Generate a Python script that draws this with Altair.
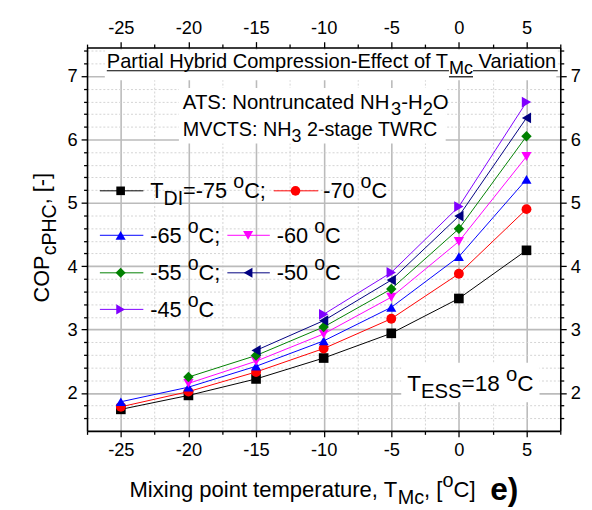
import altair as alt
import pandas as pd

# ---------------- data ----------------
x_vals = [-25, -20, -15, -10, -5, 0, 5]
series_names = ["-75", "-70", "-65", "-60", "-55", "-50", "-45"]
cop_m75 = [1.74, 1.96, 2.22, 2.55, 2.94, 3.49, 4.25]
cop_m70 = [1.78, 2.02, 2.33, 2.70, 3.17, 3.88, 4.90]
cop_m65 = [1.86, 2.09, 2.42, 2.82, 3.35, 4.15, 5.37]
cop_m60 = [None, 2.15, 2.50, 2.93, 3.51, 4.39, 5.73]
cop_m55 = [None, 2.25, 2.59, 3.04, 3.64, 4.59, 6.05]
cop_m50 = [None, None, 2.67, 3.14, 3.78, 4.79, 6.34]
cop_m45 = [None, None, None, 3.24, 3.90, 4.94, 6.59]
all_series = [cop_m75, cop_m70, cop_m65, cop_m60, cop_m55, cop_m50, cop_m45]

colors = ["#000000", "#FF0000", "#0000FF", "#FF00FF", "#008000", "#000080", "#8000FF"]
shapes = ["square", "circle", "triangle-up", "triangle-down", "diamond",
          "triangle-left", "triangle-right"]
sizes = [95, 120, 130, 130, 130, 130, 130]

x_ticks = [-27.5, -25, -22.5, -20, -17.5, -15, -12.5, -10, -7.5, -5, -2.5, 0, 2.5, 5, 7.5]
y_ticks = [1.6, 1.8, 2.0, 2.2, 2.4, 2.6, 2.8, 3.0, 3.2, 3.4, 3.6, 3.8, 4.0, 4.2, 4.4,
           4.6, 4.8, 5.0, 5.2, 5.4, 5.6, 5.8, 6.0, 6.2, 6.4, 6.6, 6.8, 7.0, 7.2, 7.4]

rows = []
for name, vals in zip(series_names, all_series):
    for xv, yv in zip(x_vals, vals):
        if yv is not None:
            rows.append({"T": xv, "COP": yv, "series": name})
df = pd.DataFrame(rows)

# ---------------- layout ----------------
FONT = "Liberation Sans"
W_PLOT, H_PLOT = 479, 388
OX, OY = 88, 45  # page position of plot origin

xscale = alt.Scale(domain=[-27.5, 7.5], nice=False, zero=False)
yscale = alt.Scale(domain=[1.4, 7.45], nice=False, zero=False)
cscale = alt.Scale(domain=series_names, range=colors)
sscale = alt.Scale(domain=series_names, range=shapes)
zscale = alt.Scale(domain=series_names, range=sizes)

x_major = "abs(datum.value % 5) < 0.001"
y_major = "abs(datum.value - round(datum.value)) < 0.001"


def axis(orient, values, major_test, grid):
    lab = "(%s) ? ((datum.value < 0 ? '-' : '') + abs(round(datum.value))) : ''" % major_test
    kw = dict(
        orient=orient, values=values, grid=grid,
        tickSize={"condition": {"test": major_test, "value": 6}, "value": 3.5},
        tickColor="#000000", tickWidth=1.3,
        domainColor="#000000", domainWidth=1.6,
        labelExpr=lab, labelFont=FONT, labelFontSize=18.5, labelColor="#000000",
        labelPadding=4, labelOverlap=False, labelFlush=False, title=None,
    )
    if grid:
        kw.update(
            gridColor={"condition": {"test": major_test, "value": "#BBBBBB"}, "value": "#D3D3D3"},
            gridWidth={"condition": {"test": major_test, "value": 1.6}, "value": 1},
            gridDash={"condition": {"test": major_test, "value": []}, "value": [2, 2]},
        )
    return alt.Axis(**kw)


lines = alt.Chart(df).mark_line(strokeWidth=1).encode(
    x=alt.X("T:Q", scale=xscale, axis=axis("bottom", x_ticks, x_major, True)),
    y=alt.Y("COP:Q", scale=yscale, axis=axis("left", y_ticks, y_major, True)),
    color=alt.Color("series:N", scale=cscale, legend=None),
)
points = alt.Chart(df).mark_point(filled=True, opacity=1).encode(
    x=alt.X("T:Q", scale=xscale, axis=axis("top", x_ticks, x_major, False)),
    y=alt.Y("COP:Q", scale=yscale, axis=axis("right", y_ticks, y_major, False)),
    color=alt.Color("series:N", scale=cscale, legend=None),
    shape=alt.Shape("series:N", scale=sscale, legend=None),
    size=alt.Size("series:N", scale=zscale, legend=None),
)

# ---------------- rich text helper ----------------
AW = {' ': 278, '!': 278, '(': 333, ')': 333, ',': 278, '-': 333, '.': 278, ':': 278,
      ';': 278, '=': 584, '[': 278, ']': 278, '0': 556, '1': 556, '2': 556, '3': 556,
      '4': 556, '5': 556, '6': 556, '7': 556, '8': 556, '9': 556,
      'A': 667, 'B': 667, 'C': 722, 'D': 722, 'E': 667, 'F': 611, 'G': 778, 'H': 722,
      'I': 278, 'J': 500, 'K': 667, 'L': 556, 'M': 833, 'N': 722, 'O': 778, 'P': 667,
      'Q': 778, 'R': 722, 'S': 667, 'T': 611, 'U': 722, 'V': 667, 'W': 944, 'X': 667,
      'Y': 667, 'Z': 611, 'a': 556, 'b': 556, 'c': 500, 'd': 556, 'e': 556, 'f': 278,
      'g': 556, 'h': 556, 'i': 222, 'j': 222, 'k': 500, 'l': 222, 'm': 833, 'n': 556,
      'o': 556, 'p': 556, 'q': 556, 'r': 333, 's': 500, 't': 278, 'u': 556, 'v': 500,
      'w': 722, 'x': 500, 'y': 500, 'z': 500}
SUBR = 0.9
one = pd.DataFrame({"a": [0]})


def tw(s, fs):
    return sum(AW.get(c, 556) for c in s) * fs / 1000.0


def rich(parts, x, y, size, angle=0, underline=False):
    """parts: list of (text, kind); x,y page coords of baseline start."""
    out = []
    cx = 0.0
    for txt, kind in parts:
        fs = size if kind == "n" else size * SUBR
        off = {"n": 0.0, "sub": size * 0.30, "sup": -size * 0.45}[kind]
        lead = len(txt) - len(txt.lstrip(" "))
        cx += tw(" " * lead, fs)
        body = txt.lstrip(" ")
        if angle == 0:
            px, py = x + cx, y + off
        else:
            px, py = x + off, y - cx
        t = alt.Chart(one).mark_text(
            text=body, align="left", baseline="alphabetic", font=FONT,
            fontSize=fs, color="#000000", angle=angle,
        ).encode(x=alt.value(px - OX), y=alt.value(py - OY))
        out.append(t)
        w = tw(body, fs)
        if underline:
            ux1 = px - tw(" " * lead, fs)
            u = alt.Chart(one).mark_rule(color="#000000", strokeWidth=1.2).encode(
                x=alt.value(ux1 - OX), x2=alt.value(px + w - OX), y=alt.value(py + 2.5 - OY))
            out.append(u)
        cx += w
    return out


def box(x1, y1, x2, y2):
    return alt.Chart(one).mark_rect(fill="#FFFFFF", stroke=None).encode(
        x=alt.value(x1 - OX), x2=alt.value(x2 - OX), y=alt.value(y1 - OY), y2=alt.value(y2 - OY))


ann = []
ann.append(box(106, 47, 563, 78))
ann += rich([("Partial Hybrid Compression-Effect of T", "n"), ("Mc", "sub"), (" Variation", "n")],
            108, 66, 20.3, underline=True)
ann.append(box(181, 86, 451, 142))
ann += rich([("ATS: Nontruncated NH", "n"), ("3", "sub"), ("-H", "n"), ("2", "sub"), ("O", "n")],
            185, 107, 20.6)
ann += rich([("MVCTS: NH", "n"), ("3", "sub"), (" 2-stage TWRC", "n")], 185, 135, 20.0)
ann.append(box(406, 364, 546, 404))
ann += rich([("T", "n"), ("ESS", "sub"), ("=18 ", "n"), ("o", "sup"), ("C", "n")], 412, 393, 22.8)

# legend
LFS = 22
leg_rows = [
    # (series index, line x1, line x2, marker x, y, text x, text parts)
    (0, 101, 145, 122, 190, 152, [("T", "n"), ("DI", "sub"), ("=-75 ", "n"), ("o", "sup"), ("C;", "n")]),
    (1, 277, 322, 299, 190, 327, [("-70 ", "n"), ("o", "sup"), ("C", "n")]),
    (2, 101, 145, 122, 235, 152, [("-65 ", "n"), ("o", "sup"), ("C;", "n")]),
    (3, 230, 273, 251, 235, 280, [("-60 ", "n"), ("o", "sup"), ("C", "n")]),
    (4, 101, 145, 122, 273, 152, [("-55 ", "n"), ("o", "sup"), ("C;", "n")]),
    (5, 230, 273, 251, 273, 280, [("-50 ", "n"), ("o", "sup"), ("C", "n")]),
    (6, 101, 145, 122, 310, 152, [("-45 ", "n"), ("o", "sup"), ("C", "n")]),
]
for i, lx1, lx2, mx, yy, tx, parts in leg_rows:
    ann.append(alt.Chart(one).mark_rule(color=colors[i], strokeWidth=1).encode(
        x=alt.value(lx1 - OX), x2=alt.value(lx2 - OX), y=alt.value(yy - OY)))
    ann.append(alt.Chart(one).mark_point(shape=shapes[i], filled=True, opacity=1,
                                         color=colors[i], size=sizes[i] * 0.8).encode(
        x=alt.value(mx - OX), y=alt.value(yy - OY)))
    ann += rich(parts, tx, yy + 7.5, LFS)

# axis titles
ann += rich([("Mixing point temperature, T", "n"), ("Mc", "sub"), (", [", "n"), ("o", "sup"), ("C]", "n")],
            131, 500, 22.3)
ann.append(alt.Chart(one).mark_text(text="e)", align="left", baseline="alphabetic", font=FONT,
                                    fontSize=32, fontWeight="bold", color="#000000").encode(
    x=alt.value(496 - OX), y=alt.value(503 - OY)))
ann += rich([("COP", "n"), ("cPHC", "sub"), (", [-]", "n")], 50, 303, 22, angle=270)

chart = alt.layer(lines, points, *ann).resolve_axis(x="independent", y="independent").properties(
    width=W_PLOT, height=H_PLOT,
    autosize=alt.AutoSizeParams(type="none"),
    padding={"left": OX - 8, "top": OY - 8, "right": 24, "bottom": 76},
).configure_view(stroke=None).configure(background="#FFFFFF")

chart.save("out.html", embed_options={"renderer": "svg", "actions": False})
